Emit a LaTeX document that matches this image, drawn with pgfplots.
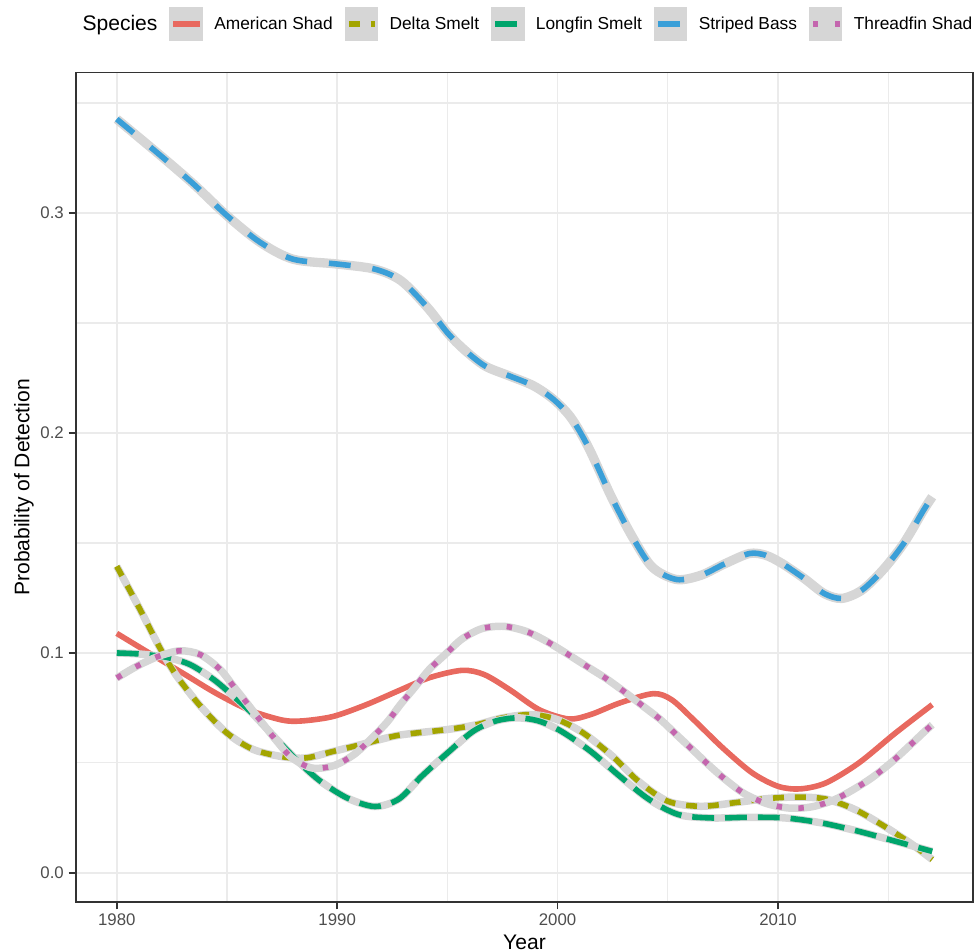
\documentclass[border=0pt]{standalone}
\usepackage{pgfplots}
\pgfplotsset{compat=1.18}
\usepackage{pgfplotstable}
\usepackage{fontspec}
\setmainfont{Liberation Sans}

\definecolor{cShad}{HTML}{E8695F}
\definecolor{cDelta}{HTML}{A3A500}
\definecolor{cLongfin}{HTML}{00A56C}
\definecolor{cBass}{HTML}{3A9FD8}
\definecolor{cThread}{HTML}{C466AE}
\definecolor{ribbon}{HTML}{D6D6D6}
\definecolor{gridgray}{HTML}{EBEBEB}
\definecolor{border}{HTML}{333333}
\definecolor{ticktext}{HTML}{4D4D4D}

% smoothed probability of detection
\pgfplotstableread{
year p
1980 0.1089
1981.5 0.0998
1983 0.0908
1984.5 0.0817
1986 0.0741
1987.5 0.0695
1988.4 0.0691
1989.8 0.0711
1991.3 0.0764
1992.8 0.0829
1994.2 0.0888
1995.67 0.0921
1996.67 0.0902
1997.83 0.0833
1999.17 0.0742
2000.5 0.0700
2001.5 0.0720
2002.83 0.0773
2004.33 0.0815
2005.17 0.0788
2006.17 0.0697
2007.5 0.0568
2008.83 0.0455
2010 0.0394
2011 0.0382
2012.17 0.0409
2013.67 0.0500
2015.33 0.0636
2017 0.0765
}\tblShad

\pgfplotstableread{
year p
1980 0.1394
1981.06 0.1197
1982 0.1015
1982.73 0.0894
1983.8 0.0758
1985 0.0636
1986.2 0.0561
1987.6 0.0527
1988.6 0.0523
1989.8 0.0552
1991.3 0.0589
1992.8 0.0626
1995 0.0652
1996.33 0.0674
1997.5 0.0705
1998.83 0.0720
2000 0.0697
2001.17 0.0636
2002.5 0.0530
2003.67 0.0417
2005 0.0326
2006.5 0.0303
2008.17 0.0321
2009.5 0.0338
2010.83 0.0345
2012.17 0.0336
2013.5 0.0288
2014.83 0.0212
2016 0.0136
2017 0.0061
}\tblDelta

\pgfplotstableread{
year p
1980 0.1000
1981.06 0.0995
1982.27 0.0980
1983.33 0.0947
1984.4 0.0879
1985.3 0.0803
1986.2 0.0720
1987.27 0.0606
1988.3 0.0500
1989.24 0.0417
1990.45 0.0341
1991.7 0.0302
1992.8 0.0336
1993.83 0.0439
1995 0.0545
1996.17 0.0644
1997.17 0.0690
1998.17 0.0705
1999.17 0.0690
2000.17 0.0644
2001.5 0.0553
2002.83 0.0439
2004.17 0.0333
2005.5 0.0265
2007 0.0250
2008.67 0.0253
2010.33 0.0250
2012 0.0227
2013.67 0.0189
2015.33 0.0144
2017 0.0098
}\tblLongfin

\pgfplotstableread{
year p
1980 0.3427
1982 0.3260
1983.5 0.3130
1985 0.2988
1986.5 0.2867
1988 0.2790
1990 0.2768
1991.7 0.2745
1992.9 0.2692
1994.1 0.2570
1995 0.2456
1995.75 0.2380
1996.7 0.2305
1997.8 0.2260
1998.9 0.2215
1999.8 0.2154
2000.6 0.2071
2001.4 0.1935
2002.45 0.1708
2003.4 0.1527
2004.3 0.1390
2005.4 0.1334
2006.5 0.1353
2007.6 0.1406
2008.7 0.1452
2009.45 0.1444
2010.2 0.1406
2011.2 0.1338
2012.1 0.1270
2012.9 0.1248
2013.8 0.1285
2014.75 0.1376
2015.7 0.1497
2016.6 0.1648
2017 0.1710
}\tblBass

\pgfplotstableread{
year p
1980 0.0886
1980.9 0.0939
1981.9 0.0985
1982.88 0.1010
1983.8 0.0992
1984.7 0.0924
1985.3 0.0848
1985.9 0.0773
1986.6 0.0682
1987.27 0.0598
1987.95 0.0523
1988.86 0.0477
1989.85 0.0488
1990.76 0.0538
1991.5 0.0606
1992.27 0.0686
1992.85 0.0763
1993.5 0.0841
1994.17 0.0924
1994.92 0.0995
1995.67 0.1064
1996.58 0.1111
1997.58 0.1121
1998.58 0.1098
1999.5 0.1053
2000.42 0.0997
2001.33 0.0939
2002.17 0.0886
2003 0.0826
2003.83 0.0762
2004.67 0.0697
2005.42 0.0626
2006.17 0.0556
2006.92 0.0485
2007.67 0.0420
2008.5 0.0359
2009.5 0.0315
2010.5 0.0295
2011.5 0.0300
2012.5 0.0330
2013.42 0.0379
2014.25 0.0432
2015.08 0.0497
2015.83 0.0565
2016.58 0.0636
2017 0.0674
}\tblThread

\begin{document}
\begin{tikzpicture}
\begin{axis}[
    name=ax,
    scale only axis,
    width=672.75pt, height=622pt,
    xmin=1978.15, xmax=2018.85,
    ymin=-0.0132, ymax=0.3638,
    xtick={1980,1990,2000,2010},
    ytick={0,0.1,0.2,0.3},
    minor xtick={1985,1995,2005,2015},
    minor ytick={0.05,0.15,0.25,0.35},
    grid=both,
    major grid style={color=gridgray, line width=1.1pt},
    minor grid style={color=gridgray, line width=0.8pt},
    axis line style={color=border, line width=1.2pt},
    tick align=outside,
    tick pos=left,
    major tick length=5.6pt, minor tick length=0pt,
    every tick/.style={color=border, line width=1.1pt},
    /pgf/number format/assume math mode=true,
    ticklabel style={font=\fontsize{12.6}{15}\selectfont, text=ticktext},
    x tick label style={/pgf/number format/1000 sep={}},
    y tick label style={/pgf/number format/.cd, fixed, fixed zerofill, precision=1, /tikz/.cd},
    xlabel={Year}, ylabel={Probability of Detection},
    label style={font=\fontsize{15.8}{19}\selectfont},
    xlabel style={at={(axis description cs:0.5,-0.0482)}, anchor=center},
    ylabel style={at={(axis description cs:-0.058,0.5)}, anchor=center},
    legend columns=-1,
    legend style={at={(axis description cs:0,1)}, anchor=west,
        xshift=4.9pt, yshift=36.5pt, draw=none, fill=none,
        inner sep=0pt, outer sep=0pt,
        font=\fontsize{13}{15}\selectfont,
        nodes={inner sep=0pt},
        cells={anchor=west},
        /tikz/every even column/.append style={column sep=9pt}},
    legend image code/.code={
        \path[fill=ribbon, draw=none] (0pt,-12.5pt) rectangle (25pt,12.5pt);
        \draw[#1] (3pt,0pt) -- (23pt,0pt);
        \path (31.5pt,0pt);
    },
]
\addlegendimage{empty legend}
\addlegendentry{\fontsize{15.8}{19}\selectfont Species}

\addplot[cShad, line width=4.2pt, smooth] table[x=year, y=p] {\tblShad};
\addlegendentry{American Shad}

\addplot[ribbon, line width=5.6pt, smooth, forget plot] table[x=year, y=p] {\tblDelta};
\addplot[cDelta, line width=4.2pt, smooth, dash pattern=on 8.2pt off 8.2pt] table[x=year, y=p] {\tblDelta};
\addlegendentry{Delta Smelt}

\addplot[ribbon, line width=5.6pt, smooth, forget plot] table[x=year, y=p] {\tblLongfin};
\addplot[cLongfin, line width=4.2pt, smooth, dash pattern=on 16.4pt off 8.2pt] table[x=year, y=p] {\tblLongfin};
\addlegendentry{Longfin Smelt}

\addplot[ribbon, line width=7pt, smooth, forget plot] table[x=year, y=p] {\tblBass};
\addplot[cBass, line width=4.2pt, smooth, dash pattern=on 16.4pt off 16.4pt] table[x=year, y=p] {\tblBass};
\addlegendentry{Striped Bass}

\addplot[ribbon, line width=5.6pt, smooth, forget plot] table[x=year, y=p] {\tblThread};
\addplot[cThread, line width=4.2pt, smooth, dash pattern=on 4.1pt off 12.3pt] table[x=year, y=p] {\tblThread};
\addlegendentry{Threadfin Shad}
\end{axis}
\pgfresetboundingbox
\path[use as bounding box] ([xshift=-57pt,yshift=-37.5pt]ax.south west) rectangle ([xshift=675pt,yshift=676.5pt]ax.south west);
\end{tikzpicture}
\end{document}
